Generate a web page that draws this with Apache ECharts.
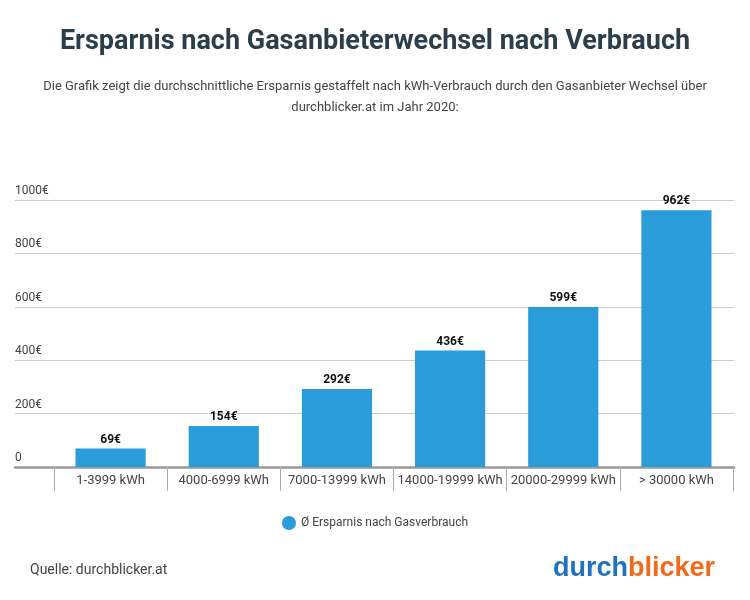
<!DOCTYPE html>
<html><head><meta charset="utf-8">
<script src="https://cdn.jsdelivr.net/npm/echarts@6/dist/echarts.min.js"></script>
<style>html,body{margin:0;padding:0;background:#fff}#c{width:750px;height:600px}</style>
</head><body><div id="c"></div>
<script>
const categories = ['1-3999 kWh','4000-6999 kWh','7000-13999 kWh','14000-19999 kWh','20000-29999 kWh','> 30000 kWh'];
const values = [69, 154, 292, 436, 599, 962];
const yTicks = [0, 200, 400, 600, 800, 1000];
const seriesName = 'Ø Ersparnis nach Gasverbrauch';

const chart = echarts.init(document.getElementById('c'));
const F = 'Roboto, sans-serif';
chart.setOption({
  backgroundColor: '#fff',
  textStyle: {fontFamily: F},
  title: [{
    text: 'Ersparnis nach Gasanbieterwechsel nach Verbrauch',
    left: 'center', top: 24,
    textStyle: {fontFamily: F, fontSize: 27, fontWeight: 'bold', color: '#2b3e4c'}
  }, {
    text: 'Die Grafik zeigt die durchschnittliche Ersparnis gestaffelt nach kWh-Verbrauch durch den Gasanbieter Wechsel über\ndurchblicker.at im Jahr 2020:',
    left: 'center', top: 71,
    textStyle: {fontFamily: F, fontSize: 13, fontWeight: 'normal', color: '#444', lineHeight: 21, align: 'center'}
  }],
  legend: {
    bottom: 65, left: 'center', icon: 'circle', itemWidth: 14, itemHeight: 14,
    textStyle: {fontFamily: F, fontSize: 12, color: '#444'},
    data: [seriesName]
  },
  grid: [
    {left: 15, right: 16, top: 200, bottom: 133},
    {left: 54, right: 17, top: 200, bottom: 133}
  ],
  xAxis: [{
    gridIndex: 0, type: 'value', min: 0, max: 1, show: true,
    axisLabel: {show: false}, axisTick: {show: false}, splitLine: {show: false},
    axisLine: {show: true, lineStyle: {color: '#999', width: 2.5}}
  }, {
    gridIndex: 1, type: 'category', data: categories,
    axisLine: {show: false},
    axisTick: {show: true, length: 24, interval: 0, lineStyle: {color: '#aaa', width: 1}},
    axisLabel: {interval: 0, margin: 7, fontFamily: F, fontSize: 13, color: '#444'}
  }],
  yAxis: [{
    gridIndex: 0, type: 'value', min: 0, max: 1000, interval: 200,
    axisLine: {show: false}, axisTick: {show: false},
    splitLine: {lineStyle: {color: '#ccc', width: 1}},
    axisLabel: {inside: true, margin: 0, verticalAlign: 'bottom', padding: [0,0,3,0],
      fontFamily: F, fontSize: 12, color: '#444',
      formatter: v => v === 0 ? '0' : v + '€'}
  }, {
    gridIndex: 1, type: 'value', min: 0, max: 1000, interval: 200, show: false
  }],
  series: [{
    name: seriesName, type: 'bar', xAxisIndex: 1, yAxisIndex: 1,
    data: values, barWidth: '62%',
    itemStyle: {color: '#2a9cd9'},
    label: {show: true, position: 'top', distance: 3, formatter: p => p.value + '€',
      fontFamily: F, fontSize: 12, fontWeight: 'bold', color: '#111'}
  }],
  graphic: [{
    type: 'text', left: 30, top: 563,
    style: {text: 'Quelle: durchblicker.at', fontFamily: F, fontSize: 14, fill: '#444'}
  }, {
    type: 'text', right: 35, top: 555,
    style: {
      text: '{a|durch}{b|blicker}',
      rich: {
        a: {fontFamily: 'Arial, Liberation Sans, sans-serif', fontSize: 27, fontWeight: 'bold', fill: '#1f72c0', color: '#1f72c0'},
        b: {fontFamily: 'Arial, Liberation Sans, sans-serif', fontSize: 27, fontWeight: 'bold', fill: '#f26a1b', color: '#f26a1b'}
      }
    }
  }]
});
</script></body></html>
